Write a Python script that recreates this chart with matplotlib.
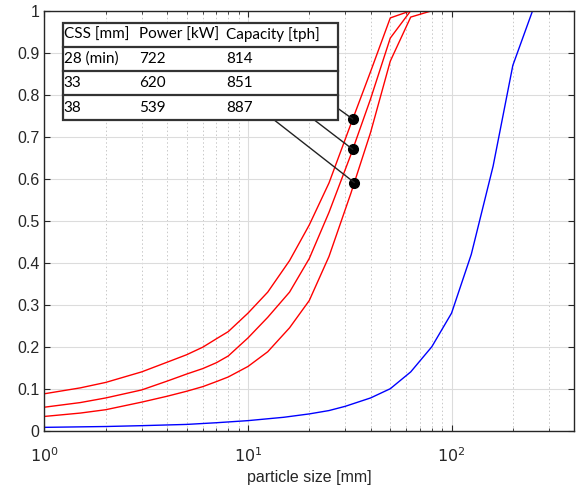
import numpy as np
import matplotlib
matplotlib.use("Agg")
import matplotlib.pyplot as plt
from matplotlib.ticker import FixedLocator, LogLocator, NullFormatter

# sieve sizes [mm] and cumulative passing fractions
sizes_red = [1, 1.5, 2, 3, 4, 5, 6, 7, 8, 10, 12.5, 16, 20, 25, 32, 40, 50, 63, 80, 300]
css28 = [0.088, 0.102, 0.115, 0.140, 0.163, 0.181, 0.199, 0.219, 0.236, 0.280, 0.330,
         0.405, 0.49, 0.59, 0.73, 0.855, 0.983, 1.0, 1.0, 1.0]
css33 = [0.056, 0.067, 0.078, 0.097, 0.118, 0.135, 0.148, 0.162, 0.178, 0.221, 0.270,
         0.330, 0.41, 0.52, 0.657, 0.79, 0.935, 1.0, 1.0, 1.0]
css38 = [0.034, 0.042, 0.050, 0.068, 0.082, 0.094, 0.105, 0.117, 0.128, 0.153, 0.188,
         0.245, 0.31, 0.415, 0.565, 0.71, 0.88, 0.985, 1.0, 1.0]

sizes_feed = [1, 2, 3, 5, 7, 10, 15, 20, 25, 30, 40, 50, 63, 80, 100, 125, 160, 200, 250, 300]
feed = [0.008, 0.010, 0.012, 0.015, 0.019, 0.024, 0.032, 0.040, 0.048, 0.058, 0.078, 0.10,
        0.14, 0.20, 0.28, 0.42, 0.63, 0.87, 1.0, 1.0]

# table contents
col_names = ["CSS [mm]", "Power [kW]", "Capacity [tph]"]
css_labels = ["28 (min)", "33", "38"]
power = ["722", "620", "539"]
capacity = ["814", "851", "887"]

marker_x = [32.7, 32.7, 33.3]

fig = plt.figure(figsize=(5.77, 4.90), dpi=100)
ax = fig.add_axes([0.077, 0.121, 0.918, 0.857])

ax.plot(sizes_red, css28, color="#ff0000", lw=1.0)
ax.plot(sizes_red, css33, color="#ff0000", lw=1.0)
ax.plot(sizes_red, css38, color="#ff0000", lw=1.0)
ax.plot(sizes_feed, feed, color="#0000ff", lw=1.0)

ax.set_xscale("log")
ax.set_xlim(1, 400)
ax.set_ylim(0, 1)
ax.yaxis.set_major_locator(FixedLocator(np.arange(0, 1.01, 0.1)))
ax.set_yticklabels(["0", "0.1", "0.2", "0.3", "0.4", "0.5", "0.6", "0.7", "0.8", "0.9", "1"])
ax.xaxis.set_major_locator(FixedLocator([1, 10, 100]))
ax.set_xticklabels([r"$10^0$", r"$10^1$", r"$10^2$"])
ax.xaxis.set_minor_locator(LogLocator(base=10, subs=np.arange(2, 10)))
ax.xaxis.set_minor_formatter(NullFormatter())

ax.grid(True, which="major", color="#dcdcdc", lw=0.8)
ax.grid(True, which="minor", axis="x", color="#c8c8c8", lw=0.7, ls=(0, (1.5, 2.5)))
ax.set_axisbelow(True)
ax.tick_params(which="both", direction="in", top=True, right=True, colors="#262626",
               labelsize=11.5)
ax.tick_params(which="major", length=4)
ax.tick_params(which="minor", length=2.5)
ax.tick_params(axis="x", which="major", pad=11)
for lab in ax.get_xticklabels() + ax.get_yticklabels():
    lab.set_family("Liberation Sans")
for s in ax.spines.values():
    s.set_color("#262626")
    s.set_linewidth(1.0)
ax.set_xlabel("particle size [mm]", fontsize=11.5, family="Liberation Sans",
              color="#262626", labelpad=4)

# markers on the product curves
curves = [css28, css33, css38]
lx = np.log10(sizes_red)
marker_y = [np.interp(np.log10(mx), lx, c) for mx, c in zip(marker_x, curves)]
ax.plot(marker_x, marker_y, "o", color="black", ms=7, zorder=6)

# table drawn in figure pixel coordinates
W, H = 577.0, 490.0
def fx(px):
    return px / W
def fy(py):
    return 1 - py / H

tab_left, tab_right = 62.7, 338
row_edges = [22.7, 46.7, 70.7, 95, 120]
fig.patches.append(plt.Rectangle((fx(tab_left), fy(row_edges[-1])),
                                 fx(tab_right) - fx(tab_left), fy(row_edges[0]) - fy(row_edges[-1]),
                                 transform=fig.transFigure, facecolor="white",
                                 edgecolor="#333333", lw=1.6, zorder=5))
for yy in row_edges[1:-1]:
    fig.lines.append(plt.Line2D([fx(tab_left), fx(tab_right)], [fy(yy), fy(yy)],
                                transform=fig.transFigure, color="#333333", lw=1.6, zorder=6))

col_x = [63.5, 139, 226.5]
rows = [col_names] + [[a, b, c] for a, b, c in zip(css_labels, power, capacity)]
for i, row in enumerate(rows):
    yc = (row_edges[i] + row_edges[i + 1]) / 2
    for xx, txt in zip(col_x, row):
        fig.text(fx(xx), fy(yc), txt, ha="left", va="center", fontsize=11,
                 family="Lato", color="black", zorder=7)

# leader lines from table to markers
starts = [(272, 61), (270, 86), (264, 112)]
for (sx, sy), mx, my in zip(starts, marker_x, marker_y):
    ax.annotate("", xy=(mx, my), xycoords="data",
                xytext=(fx(sx), fy(sy)), textcoords="figure fraction",
                arrowprops=dict(arrowstyle="-", color="#222222", lw=1.0,
                                shrinkA=0, shrinkB=0), zorder=7)

fig.savefig("out.png", dpi=100)
